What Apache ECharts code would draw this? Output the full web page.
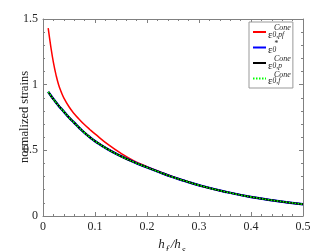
<!DOCTYPE html>
<html><head><meta charset="utf-8">
<script src="https://cdn.jsdelivr.net/npm/echarts@6/dist/echarts.min.js"></script>
<style>html,body{margin:0;padding:0;background:#fff}#c{width:334px;height:251px}</style>
</head><body><div id="c"></div>
<script>
const hRatio = [0.01,0.015,0.02,0.025,0.03,0.035,0.04,0.05,0.06,0.07,0.08,0.09,0.1,0.125,0.15,0.175,0.2,0.225,0.25,0.275,0.3,0.35,0.4,0.45,0.5];
const epsConePf = [1.43,1.29,1.17,1.075,1.0,0.945,0.9,0.832,0.779,0.735,0.695,0.659,0.625,0.545,0.477,0.42,0.376,0.336,0.299,0.266,0.235,0.185,0.145,0.115,0.09];
const epsStar   = [0.945,0.917,0.89,0.865,0.84,0.817,0.795,0.75,0.71,0.67,0.633,0.6,0.57,0.507,0.455,0.41,0.37,0.332,0.296,0.264,0.234,0.185,0.145,0.115,0.09];
const epsConeP  = epsStar.slice();
const epsConeF  = epsStar.slice();
const xTicks = [0,0.1,0.2,0.3,0.4,0.5];
const yTicks = [0,0.5,1,1.5];

const pairs = a => hRatio.map((h,i)=>[h,a[i]]);
const serif = '"Liberation Serif","DejaVu Serif",serif';
const gray = '#808080';

const chart = echarts.init(document.getElementById('c'));
const axCommon = {
  axisLine:{show:true,onZero:false,lineStyle:{color:gray,width:1}},
  axisTick:{show:true,inside:true,length:4,lineStyle:{color:gray}},
  minorTick:{show:true,splitNumber:5,length:2,lineStyle:{color:gray}},
  splitLine:{show:false}
};
chart.setOption({
  animation:false,
  backgroundColor:'#fff',
  grid:{left:43,right:31,top:19,bottom:35,containLabel:false,outerBoundsMode:'none'},
  graphic:[{type:'text',x:25,y:117,rotation:Math.PI/2,
    style:{text:'normalized strains',font:'12.5px '+serif,fill:'#222',align:'center',verticalAlign:'middle'}}],
  xAxis:[
    Object.assign({type:'value',min:0,max:0.5,interval:0.1,position:'bottom',
      name:'{i|h}{s|f}{i|/h}{s|s}',nameLocation:'middle',nameGap:12,
      nameTextStyle:{rich:{i:{fontFamily:serif,fontStyle:'italic',fontSize:13,lineHeight:17,color:'#222',verticalAlign:'top'},
                           s:{fontFamily:serif,fontStyle:'italic',fontSize:10,lineHeight:10,color:'#222',verticalAlign:'bottom',padding:[0,2,0,1]}}},
      axisLabel:{fontFamily:serif,fontSize:12,color:'#262626',margin:5,formatter:v=>String(xTicks.find(t=>Math.abs(t-v)<1e-9) ?? v)}},axCommon),
    Object.assign({type:'value',min:0,max:0.5,interval:0.1,position:'top',axisLabel:{show:false}},axCommon)
  ],
  yAxis:[
    Object.assign({type:'value',min:0,max:1.5,interval:0.5,position:'left',
      axisLabel:{fontFamily:serif,fontSize:12,color:'#262626',margin:5,formatter:v=>String(yTicks.find(t=>Math.abs(t-v)<1e-9) ?? v)}},axCommon),
    Object.assign({type:'value',min:0,max:1.5,interval:0.5,position:'right',axisLabel:{show:false}},axCommon)
  ],
  legend:{
    orient:'vertical',left:249,top:22,
    backgroundColor:'#fff',borderColor:'#999',borderWidth:1,borderRadius:0,
    padding:[2,2,1,3],itemGap:-1,itemWidth:13,itemHeight:8,
    itemStyle:{opacity:0},
    data:['pf','star','p','f'],
    formatter:function(n){
      const sup = n==='star' ? '*' : 'Cone';
      const sub = n==='pf' ? '0,pf' : n==='star' ? '0' : n==='p' ? '0,p' : '0,f';
      return '{sp|}{u|'+sup+'}\n{e|ε}{d|'+sub+'}';
    },
    textStyle:{
      padding:[0,0,0,-3],
      rich:{
        sp:{width:6,fontSize:7,lineHeight:6},
        u:{fontFamily:serif,fontStyle:'italic',fontSize:8,lineHeight:6,color:'#222'},
        e:{fontFamily:serif,fontSize:11,lineHeight:8,color:'#222'},
        d:{fontFamily:serif,fontStyle:'italic',fontSize:7.5,lineHeight:8,color:'#222',verticalAlign:'bottom',padding:[3,0,0,0]}
      }
    }
  },
  series:[
    {name:'pf',type:'line',smooth:true,symbol:'none',showSymbol:false,data:pairs(epsConePf),lineStyle:{color:'#ff0000',width:1.5},itemStyle:{color:'#ff0000'}},
    {name:'star',type:'line',smooth:true,symbol:'none',showSymbol:false,data:pairs(epsStar),lineStyle:{color:'#0000ff',width:2.5},itemStyle:{color:'#0000ff'}},
    {name:'p',type:'line',smooth:true,symbol:'none',showSymbol:false,data:pairs(epsConeP),lineStyle:{color:'#000',width:2},itemStyle:{color:'#000'}},
    {name:'f',type:'line',smooth:true,symbol:'none',showSymbol:false,data:pairs(epsConeF),lineStyle:{color:'#00ff00',width:1.5,type:[1.5,1.5]},itemStyle:{color:'#00ff00'}}
  ]
});
</script></body></html>
